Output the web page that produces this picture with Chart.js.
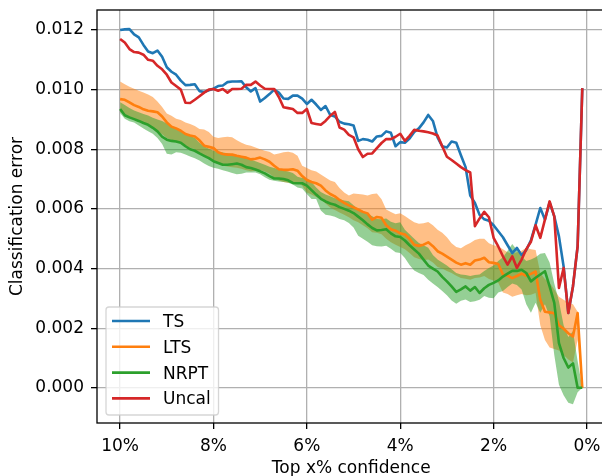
<!DOCTYPE html>
<html>
<head>
<meta charset="utf-8">
<title>Classification error vs. top x% confidence</title>
<script src="https://cdn.jsdelivr.net/npm/chart.js@4/dist/chart.umd.min.js"></script>
<style>
  html, body { margin: 0; padding: 0; background: #ffffff; overflow: hidden; }
  canvas { display: block; }
</style>
</head>
<body>
<canvas id="chart" width="612" height="476"></canvas>
<script>
// Top x% most confident predictions (percent)
const confidence = [
  10.0, 9.9, 9.8, 9.7, 9.6, 9.5, 9.4, 9.3, 9.2, 9.1,
  9.0, 8.9, 8.8, 8.7, 8.6, 8.5, 8.4, 8.3, 8.2, 8.1,
  8.0, 7.9, 7.8, 7.7, 7.6, 7.5, 7.4, 7.3, 7.2, 7.1,
  7.0, 6.9, 6.8, 6.7, 6.6, 6.5, 6.4, 6.3, 6.2, 6.1,
  6.0, 5.9, 5.8, 5.7, 5.6, 5.5, 5.4, 5.3, 5.2, 5.1,
  5.0, 4.9, 4.8, 4.7, 4.6, 4.5, 4.4, 4.3, 4.2, 4.1,
  4.0, 3.9, 3.8, 3.7, 3.6, 3.5, 3.4, 3.3, 3.2, 3.1,
  3.0, 2.9, 2.8, 2.7, 2.6, 2.5, 2.4, 2.3, 2.2, 2.1,
  2.0, 1.9, 1.8, 1.7, 1.6, 1.5, 1.4, 1.3, 1.2, 1.1,
  1.0, 0.9, 0.8, 0.7, 0.6, 0.5, 0.4, 0.3, 0.2, 0.1
];

const tsError = [
  0.01200, 0.01202, 0.01203, 0.01185, 0.01175, 0.01150, 0.01128, 0.01122, 0.01131, 0.01110,
  0.01075, 0.01060, 0.01050, 0.01030, 0.01015, 0.01016, 0.01018, 0.00995, 0.00992, 0.00998,
  0.01003, 0.01012, 0.01014, 0.01025, 0.01027, 0.01027, 0.01028, 0.01008, 0.00994, 0.01005,
  0.00960, 0.00972, 0.00985, 0.01000, 0.00990, 0.00970, 0.00969, 0.00980, 0.00980, 0.00970,
  0.00952, 0.00966, 0.00950, 0.00932, 0.00945, 0.00915, 0.00910, 0.00892, 0.00886, 0.00884,
  0.00880, 0.00828, 0.00834, 0.00832, 0.00826, 0.00843, 0.00845, 0.00860, 0.00855, 0.00810,
  0.00824, 0.00822, 0.00836, 0.00858, 0.00870, 0.00890, 0.00915, 0.00895, 0.00840, 0.00810,
  0.00806, 0.00826, 0.00822, 0.00780, 0.00740, 0.00645, 0.00620, 0.00580, 0.00565, 0.00560,
  0.00545, 0.00525, 0.00505, 0.00478, 0.00452, 0.00469, 0.00445, 0.00462, 0.00495, 0.00547,
  0.00603, 0.00564, 0.00622, 0.00575, 0.00508, 0.00407, 0.00251, 0.00340, 0.00474, 0.01005
];

const ltsError = [
  0.00968, 0.00966, 0.00957, 0.00948, 0.00942, 0.00934, 0.00929, 0.00927, 0.00924, 0.00910,
  0.00890, 0.00876, 0.00870, 0.00862, 0.00851, 0.00846, 0.00843, 0.00830, 0.00812, 0.00808,
  0.00804, 0.00790, 0.00784, 0.00782, 0.00782, 0.00778, 0.00775, 0.00772, 0.00766, 0.00768,
  0.00772, 0.00766, 0.00758, 0.00745, 0.00733, 0.00731, 0.00731, 0.00733, 0.00728, 0.00710,
  0.00697, 0.00690, 0.00686, 0.00678, 0.00662, 0.00650, 0.00642, 0.00630, 0.00620, 0.00612,
  0.00605, 0.00598, 0.00590, 0.00585, 0.00564, 0.00573, 0.00570, 0.00545, 0.00532, 0.00527,
  0.00518, 0.00514, 0.00500, 0.00480, 0.00476, 0.00480, 0.00488, 0.00475, 0.00458, 0.00450,
  0.00440, 0.00430, 0.00420, 0.00413, 0.00418, 0.00413, 0.00427, 0.00430, 0.00436, 0.00421,
  0.00419, 0.00415, 0.00380, 0.00376, 0.00368, 0.00375, 0.00383, 0.00376, 0.00382, 0.00390,
  0.00295, 0.00255, 0.00253, 0.00250, 0.00210, 0.00198, 0.00183, 0.00172, 0.00251, 0.00000
];

const ltsLow = [
  0.00925, 0.00918, 0.00910, 0.00902, 0.00895, 0.00888, 0.00880, 0.00870, 0.00862, 0.00850,
  0.00838, 0.00830, 0.00826, 0.00820, 0.00812, 0.00805, 0.00800, 0.00790, 0.00780, 0.00772,
  0.00765, 0.00752, 0.00745, 0.00742, 0.00740, 0.00738, 0.00735, 0.00730, 0.00726, 0.00728,
  0.00730, 0.00725, 0.00718, 0.00706, 0.00695, 0.00690, 0.00688, 0.00688, 0.00690, 0.00678,
  0.00655, 0.00648, 0.00640, 0.00632, 0.00618, 0.00605, 0.00596, 0.00588, 0.00580, 0.00572,
  0.00562, 0.00555, 0.00545, 0.00535, 0.00522, 0.00520, 0.00515, 0.00500, 0.00488, 0.00480,
  0.00472, 0.00465, 0.00452, 0.00438, 0.00432, 0.00428, 0.00430, 0.00420, 0.00405, 0.00400,
  0.00392, 0.00385, 0.00376, 0.00368, 0.00366, 0.00362, 0.00368, 0.00370, 0.00375, 0.00365,
  0.00360, 0.00352, 0.00320, 0.00315, 0.00305, 0.00310, 0.00315, 0.00310, 0.00312, 0.00318,
  0.00210, 0.00160, 0.00135, 0.00130, 0.00125, 0.00110, 0.00095, 0.00085, 0.00160, 0.00000
];

const ltsHigh = [
  0.01027, 0.01018, 0.01010, 0.01003, 0.00996, 0.00990, 0.00984, 0.00975, 0.00960, 0.00942,
  0.00920, 0.00912, 0.00902, 0.00898, 0.00890, 0.00885, 0.00878, 0.00868, 0.00866, 0.00858,
  0.00842, 0.00838, 0.00840, 0.00842, 0.00840, 0.00830, 0.00822, 0.00815, 0.00812, 0.00806,
  0.00800, 0.00795, 0.00792, 0.00782, 0.00786, 0.00790, 0.00792, 0.00788, 0.00778, 0.00745,
  0.00737, 0.00730, 0.00725, 0.00715, 0.00705, 0.00695, 0.00690, 0.00670, 0.00655, 0.00645,
  0.00652, 0.00650, 0.00648, 0.00645, 0.00650, 0.00652, 0.00632, 0.00598, 0.00590, 0.00582,
  0.00585, 0.00576, 0.00565, 0.00555, 0.00550, 0.00552, 0.00556, 0.00545, 0.00530, 0.00520,
  0.00505, 0.00485, 0.00472, 0.00468, 0.00478, 0.00486, 0.00496, 0.00500, 0.00500, 0.00485,
  0.00478, 0.00475, 0.00465, 0.00455, 0.00450, 0.00455, 0.00460, 0.00470, 0.00465, 0.00462,
  0.00385, 0.00365, 0.00352, 0.00330, 0.00305, 0.00295, 0.00285, 0.00280, 0.00255, 0.00000
];

const nrptError = [
  0.00935, 0.00914, 0.00907, 0.00901, 0.00895, 0.00888, 0.00882, 0.00872, 0.00860, 0.00842,
  0.00832, 0.00828, 0.00826, 0.00822, 0.00810, 0.00800, 0.00795, 0.00786, 0.00778, 0.00770,
  0.00760, 0.00754, 0.00748, 0.00748, 0.00750, 0.00752, 0.00748, 0.00740, 0.00737, 0.00732,
  0.00726, 0.00719, 0.00710, 0.00702, 0.00702, 0.00700, 0.00696, 0.00687, 0.00686, 0.00686,
  0.00678, 0.00663, 0.00648, 0.00634, 0.00625, 0.00618, 0.00614, 0.00606, 0.00600, 0.00594,
  0.00586, 0.00574, 0.00562, 0.00548, 0.00536, 0.00528, 0.00529, 0.00532, 0.00518, 0.00508,
  0.00506, 0.00494, 0.00478, 0.00464, 0.00450, 0.00430, 0.00410, 0.00400, 0.00390, 0.00372,
  0.00357, 0.00340, 0.00322, 0.00330, 0.00340, 0.00326, 0.00338, 0.00318, 0.00334, 0.00345,
  0.00352, 0.00360, 0.00373, 0.00383, 0.00392, 0.00392, 0.00396, 0.00385, 0.00357, 0.00369,
  0.00380, 0.00391, 0.00340, 0.00285, 0.00150, 0.00100, 0.00068, 0.00082, 0.00000, 0.00000
];

const nrptLow = [
  0.00922, 0.00902, 0.00894, 0.00890, 0.00880, 0.00870, 0.00860, 0.00852, 0.00838, 0.00818,
  0.00785, 0.00782, 0.00790, 0.00788, 0.00782, 0.00776, 0.00770, 0.00762, 0.00752, 0.00744,
  0.00738, 0.00735, 0.00730, 0.00725, 0.00720, 0.00716, 0.00718, 0.00722, 0.00722, 0.00722,
  0.00716, 0.00706, 0.00698, 0.00694, 0.00692, 0.00690, 0.00688, 0.00682, 0.00672, 0.00668,
  0.00650, 0.00633, 0.00633, 0.00595, 0.00580, 0.00578, 0.00574, 0.00566, 0.00562, 0.00553,
  0.00538, 0.00510, 0.00500, 0.00490, 0.00478, 0.00475, 0.00474, 0.00476, 0.00466, 0.00455,
  0.00452, 0.00435, 0.00412, 0.00393, 0.00385, 0.00378, 0.00362, 0.00350, 0.00338, 0.00325,
  0.00310, 0.00293, 0.00282, 0.00292, 0.00296, 0.00288, 0.00290, 0.00295, 0.00308, 0.00302,
  0.00300, 0.00320, 0.00325, 0.00338, 0.00350, 0.00345, 0.00330, 0.00280, 0.00252, 0.00285,
  0.00252, 0.00280, 0.00240, 0.00110, 0.00010, -0.00025, -0.00050, -0.00055, -0.00015, 0.00000
];

const nrptHigh = [
  0.00958, 0.00948, 0.00938, 0.00930, 0.00924, 0.00918, 0.00913, 0.00906, 0.00900, 0.00895,
  0.00886, 0.00878, 0.00868, 0.00860, 0.00852, 0.00846, 0.00838, 0.00822, 0.00810, 0.00802,
  0.00795, 0.00792, 0.00789, 0.00787, 0.00783, 0.00779, 0.00775, 0.00770, 0.00766, 0.00760,
  0.00754, 0.00748, 0.00741, 0.00737, 0.00733, 0.00729, 0.00725, 0.00720, 0.00708, 0.00704,
  0.00703, 0.00690, 0.00672, 0.00657, 0.00648, 0.00642, 0.00636, 0.00632, 0.00628, 0.00626,
  0.00612, 0.00600, 0.00592, 0.00584, 0.00575, 0.00566, 0.00565, 0.00568, 0.00557, 0.00552,
  0.00555, 0.00530, 0.00515, 0.00500, 0.00486, 0.00478, 0.00470, 0.00445, 0.00430, 0.00420,
  0.00410, 0.00398, 0.00385, 0.00380, 0.00378, 0.00375, 0.00378, 0.00380, 0.00392, 0.00402,
  0.00410, 0.00425, 0.00438, 0.00460, 0.00482, 0.00462, 0.00440, 0.00425, 0.00430, 0.00438,
  0.00450, 0.00452, 0.00420, 0.00350, 0.00290, 0.00210, 0.00170, 0.00190, 0.00090, 0.00000
];

const uncalError = [
  0.01170, 0.01158, 0.01136, 0.01126, 0.01124, 0.01117, 0.01100, 0.01097, 0.01080, 0.01068,
  0.01050, 0.01024, 0.01012, 0.01000, 0.00956, 0.00955, 0.00966, 0.00978, 0.00990, 0.01000,
  0.01002, 0.00996, 0.01002, 0.00990, 0.01002, 0.01002, 0.01003, 0.01016, 0.01016, 0.01027,
  0.01014, 0.01003, 0.01002, 0.01002, 0.00975, 0.00941, 0.00938, 0.00935, 0.00922, 0.00922,
  0.00935, 0.00888, 0.00885, 0.00882, 0.00895, 0.00912, 0.00925, 0.00873, 0.00866, 0.00848,
  0.00840, 0.00800, 0.00774, 0.00785, 0.00786, 0.00804, 0.00821, 0.00834, 0.00834, 0.00842,
  0.00852, 0.00828, 0.00845, 0.00865, 0.00862, 0.00860, 0.00857, 0.00853, 0.00846, 0.00810,
  0.00775, 0.00764, 0.00752, 0.00740, 0.00730, 0.00722, 0.00542, 0.00568, 0.00590, 0.00572,
  0.00503, 0.00474, 0.00441, 0.00413, 0.00441, 0.00402, 0.00430, 0.00465, 0.00490, 0.00545,
  0.00503, 0.00564, 0.00625, 0.00575, 0.00335, 0.00402, 0.00251, 0.00340, 0.00474, 0.01005
];

// Tick labels
const xTickValues = [0, 2, 4, 6, 8, 10];
const yTickValues = [0.000, 0.002, 0.004, 0.006, 0.008, 0.010, 0.012];

const seriesNames = ['TS', 'LTS', 'NRPT', 'Uncal'];
const seriesColors = ['#1f77b4', '#ff7f0e', '#2ca02c', '#d62728'];

const FONT_FAMILY = '"DejaVu Sans", "Liberation Sans", sans-serif';
const FONT_SIZE = 17;
const tickFont = { family: FONT_FAMILY, size: FONT_SIZE };

const toPoints = values => confidence.map((c, i) => ({ x: c, y: values[i] }));

const lineDataset = (idx, values, order) => ({
  label: seriesNames[idx],
  data: toPoints(values),
  borderColor: seriesColors[idx],
  backgroundColor: seriesColors[idx],
  borderWidth: 2.6,
  fill: false,
  order: order
});

const bandEdge = (label, values, order, fillTarget, color) => ({
  label: label,
  data: toPoints(values),
  borderColor: 'rgba(0,0,0,0)',
  borderWidth: 0,
  backgroundColor: color,
  fill: fillTarget,
  order: order,
  isBand: true
});

// Keep the plot frame exactly where the layout puts it (no label overhang padding)
const noScalePadding = scale => {
  scale.paddingTop = 0;
  scale.paddingBottom = 0;
  scale.paddingLeft = 0;
  scale.paddingRight = 0;
};

// Axes frame drawn over the data, legend drawn last (semi-transparent box)
const frameAndLegend = {
  id: 'frameAndLegend',
  afterDatasetsDraw(chart) {
    const { ctx, chartArea: a } = chart;
    ctx.save();
    ctx.strokeStyle = '#000000';
    ctx.lineWidth = 1.3;
    ctx.strokeRect(a.left, a.top, a.right - a.left, a.bottom - a.top);
    ctx.restore();
  },
  afterDraw(chart) {
    const { ctx, chartArea: a } = chart;
    const entries = chart.data.datasets.filter(d => !d.isBand);
    const rowGap = 25.8;
    const boxX = a.left + 9;
    const boxW = 112.5;
    const boxH = 108;
    const boxY = a.bottom - 8 - boxH;
    const r = 3;
    ctx.save();
    ctx.beginPath();
    ctx.moveTo(boxX + r, boxY);
    ctx.lineTo(boxX + boxW - r, boxY);
    ctx.arcTo(boxX + boxW, boxY, boxX + boxW, boxY + r, r);
    ctx.lineTo(boxX + boxW, boxY + boxH - r);
    ctx.arcTo(boxX + boxW, boxY + boxH, boxX + boxW - r, boxY + boxH, r);
    ctx.lineTo(boxX + r, boxY + boxH);
    ctx.arcTo(boxX, boxY + boxH, boxX, boxY + boxH - r, r);
    ctx.lineTo(boxX, boxY + r);
    ctx.arcTo(boxX, boxY, boxX + r, boxY, r);
    ctx.closePath();
    ctx.fillStyle = 'rgba(255,255,255,0.8)';
    ctx.fill();
    ctx.strokeStyle = 'rgba(204,204,204,0.8)';
    ctx.lineWidth = 1.3;
    ctx.stroke();

    ctx.font = FONT_SIZE + 'px ' + FONT_FAMILY;
    ctx.textAlign = 'left';
    ctx.textBaseline = 'alphabetic';
    entries.forEach((ds, i) => {
      const y = boxY + 14 + i * rowGap;
      ctx.beginPath();
      ctx.moveTo(boxX + 6, y);
      ctx.lineTo(boxX + 44, y);
      ctx.strokeStyle = ds.borderColor;
      ctx.lineWidth = 2.6;
      ctx.lineCap = 'butt';
      ctx.stroke();
      ctx.fillStyle = '#000000';
      ctx.fillText(ds.label, boxX + 57, y + 6);
    });
    ctx.restore();
  }
};

const chart = new Chart(document.getElementById('chart'), {
  type: 'line',
  data: {
    datasets: [
      lineDataset(0, tsError, 3),
      lineDataset(1, ltsError, 2),
      lineDataset(2, nrptError, 1),
      lineDataset(3, uncalError, 0),
      bandEdge('LTS low', ltsLow, 11, false, 'rgba(0,0,0,0)'),
      bandEdge('LTS high', ltsHigh, 10, 4, 'rgba(255,127,14,0.5)'),
      bandEdge('NRPT low', nrptLow, 9, false, 'rgba(0,0,0,0)'),
      bandEdge('NRPT high', nrptHigh, 8, 6, 'rgba(44,160,44,0.5)')
    ]
  },
  options: {
    responsive: false,
    animation: false,
    devicePixelRatio: 1,
    events: [],
    layout: { padding: { left: 0, top: 10, right: 6.6, bottom: 0 } },
    elements: {
      point: { radius: 0, hoverRadius: 0 },
      line: { tension: 0, borderJoinStyle: 'round', borderCapStyle: 'butt' }
    },
    plugins: {
      legend: { display: false },
      tooltip: { enabled: false },
      filler: { drawTime: 'beforeDatasetsDraw', propagate: false }
    },
    scales: {
      x: {
        type: 'linear',
        reverse: true,
        min: -0.395,
        max: 10.495,
        afterBuildTicks: scale => { scale.ticks = xTickValues.map(v => ({ value: v })); },
        afterFit: scale => { scale.height = 53; noScalePadding(scale); },
        ticks: {
          callback: v => v + '%',
          color: '#000000',
          font: tickFont,
          padding: 7,
          maxRotation: 0,
          autoSkip: false
        },
        grid: {
          color: '#b0b0b0',
          lineWidth: 1.3,
          tickColor: '#000000',
          tickLength: 6,
          tickWidth: 1.3
        },
        border: { display: false },
        title: {
          display: true,
          text: 'Top x% confidence',
          color: '#000000',
          font: tickFont,
          padding: { top: 0, bottom: -2.5 }
        }
      },
      y: {
        type: 'linear',
        min: -0.00118,
        max: 0.01267,
        afterBuildTicks: scale => { scale.ticks = yTickValues.map(v => ({ value: v })); },
        afterFit: scale => { scale.width = 97; noScalePadding(scale); },
        ticks: {
          callback: v => v.toFixed(3),
          color: '#000000',
          font: tickFont,
          padding: 7,
          autoSkip: false
        },
        grid: {
          color: '#b0b0b0',
          lineWidth: 1.3,
          tickColor: '#000000',
          tickLength: 6,
          tickWidth: 1.3
        },
        border: { display: false },
        title: {
          display: true,
          text: 'Classification error',
          color: '#000000',
          font: tickFont,
          padding: { top: 7, bottom: 0 }
        }
      }
    }
  },
  plugins: [frameAndLegend]
});
</script>
</body>
</html>
